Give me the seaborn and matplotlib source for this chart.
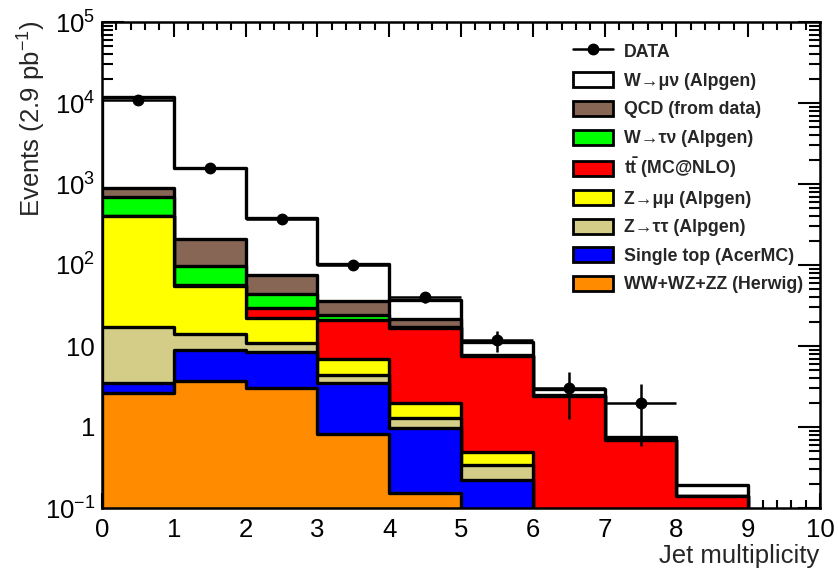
import numpy as np
import pandas as pd
import matplotlib
matplotlib.use("Agg")
import matplotlib.pyplot as plt
import seaborn as sns
from matplotlib.patches import Patch, Rectangle
from matplotlib.lines import Line2D
from matplotlib.legend_handler import HandlerPatch
from matplotlib.ticker import FixedLocator, FixedFormatter, MultipleLocator, LogLocator, NullFormatter

# ---------------- data ----------------
edges = [0, 1, 2, 3, 4, 5, 6, 7, 8, 9, 10]
njet = [0.5, 1.5, 2.5, 3.5, 4.5, 5.5, 6.5, 7.5, 8.5, 9.5]

# stack order: bottom -> top
diboson   = [2.6, 3.7, 3.0, 0.82, 0.153, 0.05, 0.01, 0.004, 0.0, 0.0]
singletop = [0.9, 5.2, 5.4, 2.7, 0.82, 0.17, 0.05, 0.004, 0.0, 0.0]
ztautau   = [13.7, 5.2, 2.5, 0.9, 0.32, 0.12, 0.01, 0.002, 0.0, 0.0]
zmumu     = [386, 41, 11.3, 2.5, 0.69, 0.15, 0.02, 0.002, 0.0, 0.0]
ttbar     = [0.3, 1.0, 7.2, 14.1, 14.7, 7.0, 2.3, 0.67, 0.14, 0.0]
wtaunu    = [289, 41, 14.5, 3.0, 0.3, 0.1, 0.02, 0.005, 0.0, 0.0]
qcd       = [198, 113, 31, 12, 4.5, 0.2, 0.05, 0.005, 0.0, 0.0]
wmunu     = [11010, 1370, 305, 67, 15.5, 3.4, 0.45, 0.07, 0.05, 0.0]

data = [10900, 1580, 370, 100, 40, 12, 3, 2, 0, 0]

labels = ["WW+WZ+ZZ (Herwig)", "Single top (AcerMC)", "Z\u2192\u03c4\u03c4 (Alpgen)",
          "Z\u2192\u03bc\u03bc (Alpgen)", r"$\mathbf{t\bar{t}}$ (MC@NLO)",
          "W\u2192\u03c4\u03bd (Alpgen)", "QCD (from data)", "W\u2192\u03bc\u03bd (Alpgen)"]
colors = ["#ff8c00", "#0000ff", "#d3cd87", "#ffff00", "#ff0000", "#00ff00", "#876656", "#ffffff"]
components = [diboson, singletop, ztautau, zmumu, ttbar, wtaunu, qcd, wmunu]

ytick_vals = [0.1, 1, 10, 100, 1000, 1e4, 1e5]
ytick_labels = [r"$\mathregular{10^{-1}}$", "1", "10", r"$\mathregular{10^{2}}$",
                r"$\mathregular{10^{3}}$", r"$\mathregular{10^{4}}$", r"$\mathregular{10^{5}}$"]

# ---------------- style ----------------
sns.set_theme(style="ticks")
plt.rcParams["font.family"] = ["Liberation Sans", "DejaVu Sans"]
plt.rcParams["mathtext.fontset"] = "custom"
plt.rcParams["mathtext.rm"] = "Liberation Sans"
plt.rcParams["mathtext.it"] = "Liberation Sans:italic"
plt.rcParams["mathtext.bf"] = "Liberation Sans:bold"

fig = plt.figure(figsize=(8.38, 5.73), dpi=100)
ax = fig.add_axes([102/838, 1-508/573, (820-102)/838, (508-22)/573])
ax.set_yscale("log")

cum = np.cumsum(np.array(components, dtype=float), axis=0)
# draw from top (total) down so each layer covers the next
for i in range(len(components)-1, -1, -1):
    df = pd.DataFrame({"njet": njet, "events": cum[i]})
    sns.histplot(data=df, x="njet", weights="events", bins=edges, element="step",
                 fill=True, color=colors[i], alpha=1.0, edgecolor="black",
                 linewidth=2.4, ax=ax, zorder=2 + (len(components) - i))

# data points
d = np.array(data, dtype=float)
mask = d > 0
x = np.array(njet)[mask]
ax.errorbar(x, d[mask], xerr=0.5, yerr=np.sqrt(d[mask]), fmt="o", color="black",
            markersize=7.5, elinewidth=1.8, capsize=0, zorder=20)

ax.set_xlim(0, 10)
ax.set_ylim(0.1, 1e5)
ax.set_xlabel("")
ax.set_ylabel("")

ax.xaxis.set_major_locator(MultipleLocator(1))
ax.xaxis.set_minor_locator(MultipleLocator(0.2))
ax.yaxis.set_major_locator(FixedLocator(ytick_vals))
ax.yaxis.set_major_formatter(FixedFormatter(ytick_labels))
ax.yaxis.set_minor_locator(LogLocator(base=10, subs=np.arange(2, 10)))
ax.yaxis.set_minor_formatter(NullFormatter())

ax.tick_params(axis="both", which="both", direction="in", top=True, right=True,
               labelsize=18.5, width=1.5, color="black", labelcolor="black")
ax.tick_params(axis="x", which="major", length=11, pad=7.5)
ax.tick_params(axis="x", which="minor", length=5.5)
ax.tick_params(axis="y", which="major", length=16, pad=5)
ax.tick_params(axis="y", which="minor", length=8)
for s in ax.spines.values():
    s.set_linewidth(1.8)
    s.set_color("black")
    s.set_zorder(30)
ax.set_axisbelow(False)

fig.text(819/838, 1-563/573, "Jet multiplicity", ha="right", va="baseline", fontsize=18.5)
fig.text(32/838, 1-20/573, r"Events (2.9 pb$^{\mathregular{-1}}$)", rotation=90,
         ha="center", va="top", fontsize=18.5)

# legend
BOX_H = 10.8  # points


def small_box(legend, orig_handle, xdescent, ydescent, width, height, fontsize):
    return Rectangle((-xdescent, -ydescent + (height - BOX_H) / 2), width, BOX_H)


handles = [Line2D([0], [0], color="black", marker="o", markersize=7.5, linewidth=1.8)]
leg_labels = ["DATA"]
for i in range(len(components)-1, -1, -1):
    handles.append(Patch(facecolor=colors[i], edgecolor="black", linewidth=2))
    leg_labels.append(labels[i])
leg = fig.legend(handles, leg_labels, loc="upper left", bbox_to_anchor=(573/838, 1-40.5/573),
                 frameon=False, prop={"weight": "bold", "size": 12.8}, borderpad=0,
                 borderaxespad=0, handlelength=2.25, handleheight=1.5, labelspacing=0.39,
                 handletextpad=0.6, handler_map={Patch: HandlerPatch(patch_func=small_box)})
leg.set_zorder(40)

fig.savefig("out.png", dpi=100)
